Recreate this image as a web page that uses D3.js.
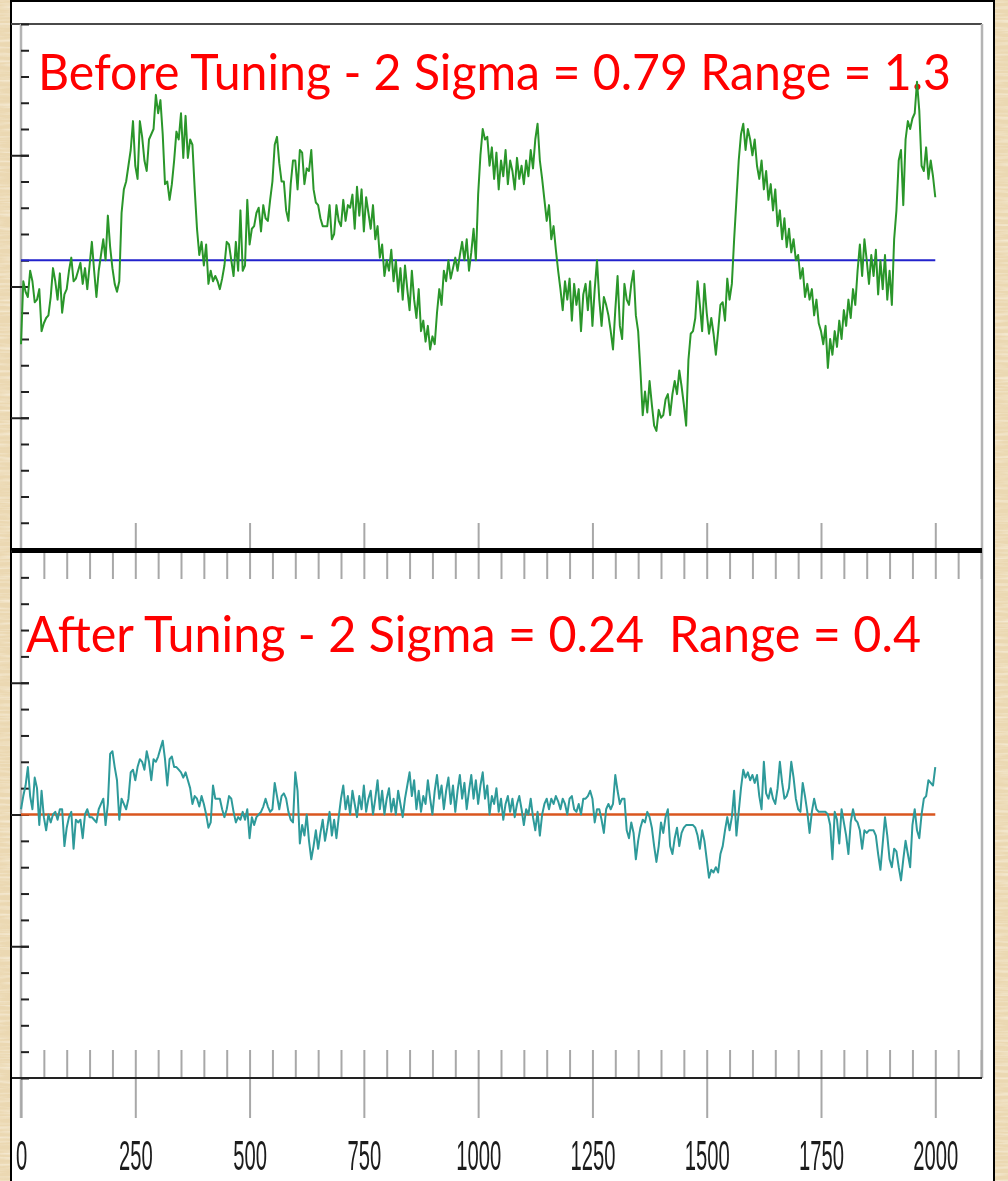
<!DOCTYPE html>
<html>
<head>
<meta charset="utf-8">
<script src="https://cdn.jsdelivr.net/npm/d3@7"></script>
<style>
  html, body { margin: 0; padding: 0; background: #ecdab5; }
  svg { display: block; }
</style>
</head>
<body>
<svg id="chart" width="1008" height="1181"></svg>
<script>
// Process variable sampled every 5 scans, before and after loop tuning
const sampleStep = 5;

const beforeValues = [
  0.78,1.02,0.98,0.96,1.06,1.02,0.94,0.95,0.99,0.83,
  0.86,0.88,0.89,0.96,1.07,1.02,0.95,1.05,0.90,0.97,
  0.99,1.06,1.11,1.02,1.03,1.06,1.09,1.01,1.07,0.99,
  1.08,1.17,1.06,0.96,1.06,1.12,1.18,1.10,1.27,1.15,
  1.07,1.01,0.98,1.02,1.28,1.37,1.40,1.46,1.52,1.63,
  1.46,1.41,1.63,1.57,1.48,1.44,1.56,1.58,1.60,1.73,
  1.66,1.71,1.58,1.39,1.40,1.33,1.39,1.48,1.59,1.56,
  1.66,1.49,1.65,1.49,1.56,1.54,1.37,1.22,1.12,1.17,
  1.08,1.16,1.01,1.06,1.02,1.04,1.02,0.99,1.03,1.08,
  1.17,1.16,1.10,1.04,1.17,1.06,1.29,1.06,1.08,1.33,
  1.16,1.22,1.23,1.28,1.30,1.21,1.31,1.26,1.25,1.33,
  1.40,1.54,1.57,1.47,1.40,1.40,1.29,1.25,1.39,1.48,
  1.48,1.37,1.52,1.51,1.39,1.45,1.44,1.52,1.37,1.32,
  1.31,1.26,1.23,1.23,1.23,1.31,1.18,1.20,1.31,1.25,
  1.23,1.33,1.25,1.31,1.30,1.35,1.22,1.38,1.27,1.37,
  1.21,1.34,1.28,1.22,1.31,1.18,1.23,1.11,1.16,1.04,
  1.10,1.06,1.14,1.02,1.10,0.98,1.07,0.95,1.08,0.99,
  0.91,1.06,0.95,0.88,0.99,0.83,0.87,0.79,0.85,0.76,
  0.81,0.78,0.90,0.99,0.93,1.06,1.02,1.10,1.03,1.07,
  1.11,1.06,1.12,1.17,1.10,1.18,1.06,1.13,1.22,1.10,
  1.35,1.50,1.60,1.56,1.57,1.46,1.53,1.41,1.51,1.37,
  1.48,1.42,1.52,1.39,1.48,1.44,1.37,1.49,1.41,1.46,
  1.39,1.48,1.42,1.52,1.45,1.56,1.62,1.48,1.41,1.33,
  1.25,1.31,1.18,1.23,1.14,1.06,0.99,0.91,1.02,0.95,
  1.03,0.87,1.01,0.93,0.99,0.83,0.97,1.01,0.91,1.02,
  0.85,0.99,1.10,0.95,0.85,0.96,0.93,0.89,0.83,0.76,
  0.91,1.04,0.85,0.80,1.01,0.95,0.93,1.01,1.06,0.89,
  0.83,0.68,0.51,0.60,0.52,0.64,0.55,0.47,0.45,0.53,
  0.50,0.51,0.57,0.59,0.51,0.59,0.64,0.59,0.68,0.62,
  0.55,0.47,0.72,0.82,0.83,0.88,1.02,0.93,0.83,1.01,
  0.90,0.82,0.88,0.82,0.74,0.83,0.93,0.94,0.87,1.03,
  0.95,1.01,1.18,1.33,1.48,1.58,1.62,1.52,1.60,1.56,
  1.50,1.56,1.46,1.41,1.48,1.37,1.44,1.33,1.39,1.29,
  1.37,1.23,1.29,1.18,1.26,1.15,1.22,1.13,1.18,1.10,
  1.12,1.03,1.07,0.96,1.01,0.95,0.99,0.89,0.95,0.86,
  0.83,0.78,0.85,0.69,0.80,0.74,0.83,0.77,0.87,0.80,
  0.91,0.85,0.95,0.88,0.99,0.93,1.06,1.16,1.04,1.18,
  1.10,1.01,1.12,1.04,1.14,0.97,1.10,0.99,1.12,0.95,
  1.06,0.93,1.18,1.29,1.48,1.52,1.31,1.56,1.63,1.60,
  1.64,1.66,1.78,1.67,1.46,1.44,1.53,1.41,1.48,1.42,
  1.34
];

const afterValues = [
  1.02,1.07,1.11,1.18,1.07,1.02,1.14,1.10,0.96,1.09,
  0.99,0.94,1.00,0.97,1.00,1.01,0.98,1.02,1.02,0.88,
  0.95,0.99,1.01,0.87,0.98,0.97,0.98,0.91,1.00,1.02,
  0.99,0.99,0.98,0.97,1.02,1.04,1.06,0.96,1.04,1.23,
  1.24,1.18,1.13,0.98,1.06,1.04,1.02,1.06,1.16,1.17,
  1.13,1.18,1.21,1.20,1.17,1.24,1.20,1.13,1.21,1.20,
  1.22,1.25,1.28,1.21,1.11,1.21,1.22,1.18,1.18,1.17,
  1.16,1.14,1.16,1.13,1.10,1.04,1.07,1.06,1.03,1.07,
  1.04,1.00,0.95,0.97,1.11,1.06,1.06,1.06,1.02,0.99,
  1.02,1.07,1.06,1.01,0.97,0.99,0.98,1.01,0.98,1.02,
  0.91,0.99,0.96,0.99,1.00,1.01,1.03,1.06,1.03,1.01,
  1.02,1.12,1.07,1.02,1.07,1.08,1.06,1.01,0.98,0.97,
  1.16,1.09,0.89,0.96,0.92,1.00,0.90,0.83,0.88,0.94,
  0.87,0.93,0.98,0.90,0.95,1.01,0.92,0.98,0.91,0.99,
  1.06,1.11,1.02,1.07,1.00,1.09,1.04,0.99,1.07,1.02,
  1.11,1.01,1.06,1.09,1.00,1.06,1.13,1.02,1.09,1.00,
  1.06,1.10,1.01,1.06,1.00,1.09,1.04,0.99,1.06,1.11,
  1.16,1.07,1.13,1.02,1.09,1.01,1.07,1.04,1.13,1.06,
  1.00,1.09,1.15,1.06,1.11,1.02,1.09,1.14,1.04,1.11,
  1.01,1.09,1.15,1.06,1.12,1.02,1.09,1.15,1.06,1.13,
  1.04,1.11,1.16,1.06,1.11,1.00,1.07,1.04,1.10,1.01,
  1.06,0.98,1.04,1.07,1.01,1.06,0.99,1.04,1.07,1.02,
  0.96,1.02,1.00,1.06,0.99,0.94,1.01,0.92,1.00,1.04,
  1.06,1.02,1.06,1.04,1.07,1.05,1.02,1.06,1.04,1.00,
  1.06,1.07,1.02,1.01,1.04,1.00,1.06,1.06,1.07,1.09,
  1.06,0.97,1.02,1.02,0.98,0.93,1.02,1.04,1.02,1.04,
  1.15,1.09,1.04,1.06,1.06,0.94,0.91,0.97,0.93,0.83,
  0.90,0.95,0.98,0.97,1.01,0.99,0.95,0.88,0.82,0.88,
  0.97,0.93,0.99,1.02,0.88,0.85,0.91,0.95,0.88,0.93,
  0.95,0.96,0.96,0.96,0.96,0.95,0.92,0.87,0.94,0.90,
  0.83,0.76,0.79,0.78,0.80,0.78,0.85,0.88,0.94,0.99,
  0.94,0.99,1.09,0.92,1.01,1.10,1.17,1.14,1.16,1.13,
  1.15,1.12,1.15,1.07,1.02,1.20,1.08,1.06,1.10,1.06,
  1.04,1.10,1.20,1.12,1.06,1.07,1.10,1.20,1.14,1.06,
  1.02,1.01,1.12,1.07,1.01,0.93,1.01,1.06,1.02,1.01,
  1.01,1.01,1.01,1.00,0.96,0.83,1.01,0.98,0.89,1.02,
  0.97,0.92,0.85,0.97,1.02,0.98,0.97,0.94,0.87,0.94,
  0.93,0.94,0.94,0.94,0.92,0.85,0.79,0.89,0.99,0.92,
  0.83,0.80,0.87,0.86,0.80,0.75,0.83,0.90,0.85,0.80,
  0.96,1.02,0.94,0.91,1.00,1.06,1.07,1.13,1.12,1.11,
  1.18
];

const beforeSetpoint = 1.1;
const afterSetpoint = 1.0;

const xTickLabels = ["0","250","500","750","1000","1250","1500","1750","2000"];
const xMajorTicks = [0,250,500,750,1000,1250,1500,1750,2000];
const xMinorTicks = d3.range(50, 2101, 50);
const yMinorTicks = d3.range(0, 21).map(i => i / 10);
const yMajorTicksTop = [0.5, 1.0, 1.5];
const yMajorTicksBottom = [0.5, 1.0, 1.5, 2.0];

const titles = [
  "Before Tuning - 2 Sigma = 0.79 Range = 1.3",
  "After Tuning - 2 Sigma = 0.24  Range = 0.4"
];

const W = 1008, H = 1181;
const svg = d3.select("#chart");
const defs = svg.append("defs");

// parchment texture behind the white panel
const paper = defs.append("filter").attr("id", "paper")
  .attr("x", 0).attr("y", 0).attr("width", "100%").attr("height", "100%");
paper.append("feTurbulence").attr("type", "fractalNoise")
  .attr("baseFrequency", "0.02 0.3").attr("numOctaves", 3).attr("seed", 7);
paper.append("feColorMatrix").attr("type", "matrix")
  .attr("values", "0 0 0 0 1  0 0 0 0 0.97  0 0 0 0 0.9  1.6 0 0 0 -0.7");

const soft = defs.append("filter").attr("id", "soft");
soft.append("feGaussianBlur").attr("stdDeviation", 0.6);

svg.append("rect").attr("width", W).attr("height", H).attr("fill", "#ebd8b2");
svg.append("rect").attr("width", W).attr("height", H)
  .attr("filter", "url(#paper)").attr("opacity", 0.8);

// white chart panel with black border
svg.append("rect")
  .attr("x", 11).attr("y", 1).attr("width", 983).attr("height", H + 5)
  .attr("fill", "#fff").attr("stroke", "#000").attr("stroke-width", 2);

// scales
const x = d3.scaleLinear().domain([0, 2100]).range([21, 981]);
const yTop = d3.scaleLinear().domain([0, 2]).range([549, 24]);
const yBot = d3.scaleLinear().domain([0, 2]).range([1078, 551]);

function addAxis(axis, tx, ty, color, width) {
  const g = svg.append("g").attr("transform", `translate(${tx},${ty})`).call(axis);
  g.select(".domain").remove();
  g.selectAll(".tick line").attr("stroke", color).attr("stroke-width", width);
  return g;
}

// frame lines
svg.append("line").attr("x1", 11).attr("x2", 982).attr("y1", 24).attr("y2", 24)
  .attr("stroke", "#4a4a4a").attr("stroke-width", 2);
svg.append("line").attr("x1", 982).attr("x2", 982).attr("y1", 24).attr("y2", 1078)
  .attr("stroke", "#b4b4b4").attr("stroke-width", 2.5);
svg.append("line").attr("x1", 21).attr("x2", 21).attr("y1", 24).attr("y2", 1118)
  .attr("stroke", "#b4b4b4").attr("stroke-width", 2.5);

// x ticks: top chart bottom edge (major, upward)
addAxis(d3.axisTop(x).tickValues(xMajorTicks.slice(1)).tickSize(26).tickFormat(""), 0, 549, "#a8a8a8", 2);
// x ticks: bottom chart top edge (every 50, downward)
addAxis(d3.axisBottom(x).tickValues(xMinorTicks).tickSize(27).tickFormat(""), 0, 552, "#a8a8a8", 2);
// x ticks: bottom chart bottom edge (every 50, upward)
addAxis(d3.axisTop(x).tickValues(xMinorTicks).tickSize(28).tickFormat(""), 0, 1078, "#a8a8a8", 2);
// x ticks: major with labels below the bottom chart
const xLab = addAxis(d3.axisBottom(x).tickValues(xMajorTicks).tickSize(40)
  .tickFormat((d, i) => xTickLabels[i]), 0, 1078, "#a8a8a8", 2);
xLab.attr("font-size", null).attr("font-family", null);
xLab.selectAll(".tick text")
  .attr("y", 92).attr("dy", null)
  .attr("font-family", "'Liberation Sans', Arial, sans-serif")
  .attr("font-size", 43)
  .attr("fill", "#1c1c1c")
  .attr("transform", "scale(0.47,1)")
  .attr("filter", "url(#soft)");

// y ticks, both charts
addAxis(d3.axisRight(yTop).tickValues(yMinorTicks).tickSize(8).tickFormat(""), 21, 0, "#222", 2);
addAxis(d3.axisRight(yTop).tickValues(yMajorTicksTop).tickSize(18).tickFormat(""), 11, 0, "#222", 2);
addAxis(d3.axisRight(yBot).tickValues(yMinorTicks).tickSize(8).tickFormat(""), 21, 0, "#222", 2);
addAxis(d3.axisRight(yBot).tickValues(yMajorTicksBottom).tickSize(18).tickFormat(""), 11, 0, "#222", 2);

// heavy separator (top chart x axis) and bottom x axis
svg.append("line").attr("x1", 12).attr("x2", 982).attr("y1", 550.5).attr("y2", 550.5)
  .attr("stroke", "#000").attr("stroke-width", 5);
svg.append("line").attr("x1", 12).attr("x2", 982).attr("y1", 1078).attr("y2", 1078)
  .attr("stroke", "#222").attr("stroke-width", 2);

// titles
svg.append("text").text(titles[0])
  .attr("x", 38).attr("y", 90)
  .attr("font-family", "Lato, 'Open Sans', sans-serif")
  .attr("font-size", 50).attr("fill", "#ff0000")
  .attr("textLength", 913).attr("lengthAdjust", "spacingAndGlyphs");
svg.append("text").text(titles[1])
  .attr("x", 26).attr("y", 652)
  .style("white-space", "pre")
  .attr("font-family", "Lato, 'Open Sans', sans-serif")
  .attr("font-size", 50).attr("fill", "#ff0000")
  .attr("textLength", 895).attr("lengthAdjust", "spacingAndGlyphs");

// setpoint lines
svg.append("line")
  .attr("x1", x(0)).attr("x2", x(2000))
  .attr("y1", yTop(beforeSetpoint)).attr("y2", yTop(beforeSetpoint))
  .attr("stroke", "#2222cc").attr("stroke-width", 2);
svg.append("line")
  .attr("x1", x(0)).attr("x2", x(2000))
  .attr("y1", yBot(afterSetpoint)).attr("y2", yBot(afterSetpoint))
  .attr("stroke", "#d9561f").attr("stroke-width", 2.5);

// process traces
const lineTop = d3.line().x((d, i) => x(i * sampleStep)).y(d => yTop(d));
const lineBot = d3.line().x((d, i) => x(i * sampleStep)).y(d => yBot(d));

svg.append("path").datum(beforeValues)
  .attr("d", lineTop).attr("fill", "none")
  .attr("stroke", "#2a962a").attr("stroke-width", 2)
  .attr("stroke-linejoin", "round");
svg.append("path").datum(afterValues)
  .attr("d", lineBot).attr("fill", "none")
  .attr("stroke", "#2e9a9a").attr("stroke-width", 2)
  .attr("stroke-linejoin", "round");
</script>
</body>
</html>
